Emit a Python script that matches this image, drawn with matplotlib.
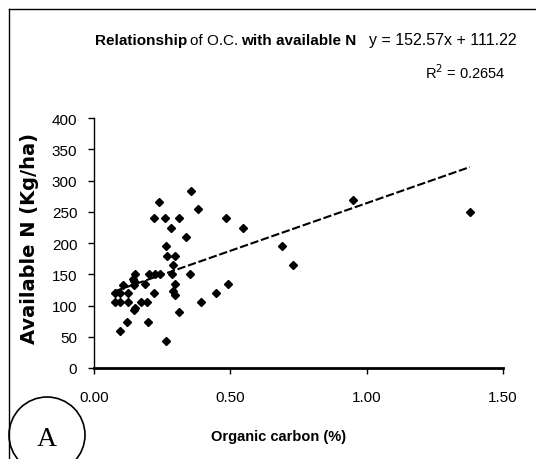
import matplotlib
matplotlib.use("Agg")
import matplotlib.pyplot as plt
from matplotlib.lines import Line2D
from matplotlib.patches import Ellipse
import numpy as np

organic_carbon = [0.357, 0.238, 0.381, 0.220, 0.259, 0.310, 0.485, 0.283, 0.546, 0.339,
                  0.265, 0.690, 0.268, 0.298, 0.291, 0.729, 0.150, 0.200, 0.241, 0.285,
                  0.352, 0.144, 0.105, 0.147, 0.187, 0.296, 0.492, 0.291, 0.077, 0.095,
                  0.125, 0.220, 0.298, 0.449, 0.077, 0.097, 0.125, 0.174, 0.196, 0.394,
                  0.145, 0.150, 0.310, 0.120, 0.197, 0.097, 0.265, 0.950, 1.378, 0.225,
                  0.145]
available_n = [284, 266, 255, 240, 240, 240, 240, 224, 224, 210,
               195, 195, 179, 179, 165, 165, 150, 150, 151, 151,
               150, 143, 133, 133, 134, 134, 134, 124, 120, 120,
               120, 120, 117, 120, 105, 105, 105, 105, 105, 105,
               93, 96, 90, 74, 74, 60, 44, 269, 250, 150,
               140]
slope, intercept = 152.57, 111.22
r_squared = "0.2654"
x_ticks = [0.0, 0.5, 1.0, 1.5]
x_tick_labels = ["0.00", "0.50", "1.00", "1.50"]
y_ticks = [0, 50, 100, 150, 200, 250, 300, 350, 400]

sans = ["Liberation Sans", "DejaVu Sans"]

W, H = 536, 460
fig = plt.figure(figsize=(W / 100, H / 100), dpi=100)
ax = fig.add_axes([94 / W, 1 - 369 / H, (503 - 94) / W, (369 - 119) / H])

ax.plot(organic_carbon, available_n, linestyle="none", marker="D", markersize=3.6,
        color="black")
xs = np.array([min(organic_carbon), max(organic_carbon)])
ax.plot(xs, slope * xs + intercept, color="black", linewidth=1.5,
        linestyle=(0, (4, 1.3)))

ax.set_xlim(0, 1.5)
ax.set_ylim(0, 400)
ax.set_xticks(x_ticks)
ax.set_xticklabels(x_tick_labels)
ax.set_yticks(y_ticks)
for s in ["top", "right"]:
    ax.spines[s].set_visible(False)
ax.spines["bottom"].set_linewidth(2.0)
ax.spines["left"].set_linewidth(1.0)
ax.tick_params(axis="y", direction="out", length=4, width=1, pad=8)
ax.tick_params(axis="x", direction="out", length=4, width=1, pad=12)
for lab in ax.get_xticklabels() + ax.get_yticklabels():
    lab.set_family(sans)
    lab.set_fontsize(11)

fig.text(279 / W, 1 - 437 / H, "Organic carbon (%)", family=sans, fontweight="bold",
         fontsize=10.5, ha="center", va="center")
fig.text(30 / W, 1 - 238 / H, "Available N (Kg/ha)", family="DejaVu Sans",
         fontweight="bold", fontsize=14, rotation=90, ha="center", va="center")

# title pieces
ty = 1 - 41 / H
t1 = fig.text(95 / W, ty, "Relationship", family=sans, fontweight="bold",
              fontsize=11, ha="left", va="center")
fig.canvas.draw()
r = fig.canvas.get_renderer()
bb = t1.get_window_extent(r)
t2 = fig.text((bb.x1 + 3) / W, ty, "of O.C.", family=sans, fontsize=11,
              ha="left", va="center")
bb = t2.get_window_extent(r)
t3 = fig.text((bb.x1 + 3) / W, ty, "with available N", family=sans,
              fontweight="bold", fontsize=11, ha="left", va="center")

fig.text(369 / W, ty, f"y = {slope:.2f}x + {intercept:.2f}", family=sans,
         fontsize=11.5, ha="left", va="center")
fig.text(425 / W, 1 - 73 / H, f"R$^2$ = {r_squared}", family=sans, fontsize=10.5,
         ha="left", va="center")

# frame lines
fig.add_artist(Line2D([9 / W, 1], [1 - 10 / H, 1 - 10 / H], color="black", lw=1))
fig.add_artist(Line2D([9 / W, 9 / W], [0, 1 - 10 / H], color="black", lw=1))

# circled A
fig.add_artist(Ellipse((47 / W, 1 - 436 / H), 76 / W, 76 / H, fill=False,
                       edgecolor="black", lw=1.2))
fig.text(47 / W, 1 - 440 / H, "A", family="Liberation Serif", fontsize=20,
         ha="center", va="center")

fig.savefig("out.png", dpi=100)
